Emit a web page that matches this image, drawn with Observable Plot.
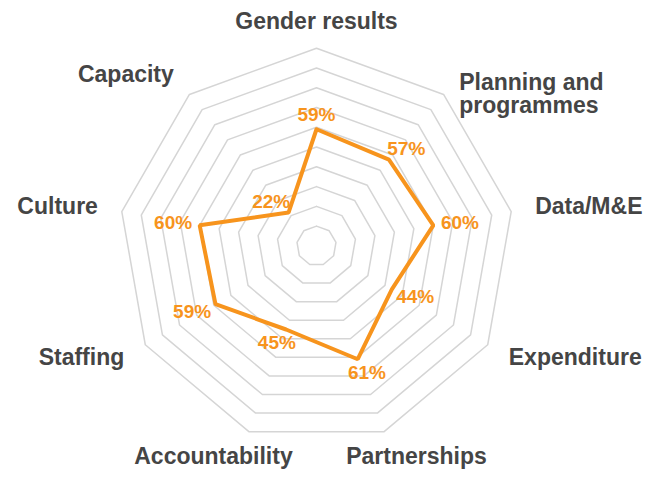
<!DOCTYPE html>
<html>
<head>
<meta charset="utf-8">
<script src="https://cdn.jsdelivr.net/npm/d3@7"></script>
<script src="https://cdn.jsdelivr.net/npm/@observablehq/plot@0.6"></script>
<style>
  html, body { margin: 0; padding: 0; background: #ffffff; }
</style>
</head>
<body>
<div id="chart"></div>
<script>
// ---- data ----
const categories = ["Gender results", "Planning and\nprogrammes", "Data/M&E", "Expenditure",
  "Partnerships", "Accountability", "Staffing", "Culture", "Capacity"];
const values = [59, 57, 60, 44, 61, 45, 59, 60, 22];
const valueLabels = values.map(v => v + "%");
const gridLevels = [10, 20, 30, 40, 50, 60, 70, 80, 90, 100];

// ---- layout ----
const W = 664, H = 477;
const cx = 316, cy = 245.4;     // centre in pixels
const k = 1.977;                // pixels per percentage point
const orange = "#f7941d";
const fontFamily = "'Liberation Sans', Arial, Helvetica, sans-serif";
const catFont = 23, valFont = 19;

const n = categories.length;
const ang = i => (2 * Math.PI * i) / n;

const ctx = document.createElement("canvas").getContext("2d");
function measure(str, size) {
  ctx.font = `bold ${size}px ${fontFamily}`;
  return Math.max(...str.split("\n").map(s => ctx.measureText(s).width));
}

// grid rings
const rings = gridLevels.flatMap(l =>
  d3.range(n + 1).map(i => ({level: l, x: l * Math.sin(ang(i % n)), y: l * Math.cos(ang(i % n))}))
);

// data polygon
const poly = d3.range(n + 1).map(i => {
  const j = i % n;
  return {x: values[j] * Math.sin(ang(j)), y: values[j] * Math.cos(ang(j))};
});

// category labels
const RX = 222, RY = 224;
const catData = categories.map((c, i) => {
  const s = Math.sin(ang(i)), co = Math.cos(ang(i));
  const anchor = s > 0.5 ? "start" : s < -0.5 ? "end" : "middle";
  const w = measure(c, catFont);
  const xp = anchor === "middle" ? (RX + w / 2) * s : RX * s;
  const yp = RY * co;
  const multi = c.includes("\n");
  return {text: c, anchor, line: multi ? "top" : "middle", x: xp / k, y: yp / k};
});

// value labels
const d = 8, hLab = 13;
const valData = values.map((v, i) => {
  const s = Math.sin(ang(i)), co = Math.cos(ang(i));
  const w = measure(valueLabels[i], valFont);
  const r = v * k;
  return {text: valueLabels[i], x: ((r + d + w / 2) * s) / k, y: ((r + d + hLab / 2) * co) / k};
});

const catMark = (a, l) => Plot.text(catData.filter(e => e.anchor === a && e.line === l), {
  x: "x", y: "y", text: "text", textAnchor: a, lineAnchor: l,
  fill: "#454545", fontWeight: "bold", fontSize: catFont, lineHeight: 0.98
});

const chart = Plot.plot({
  width: W,
  height: H,
  margin: 0,
  x: {type: "linear", domain: [-cx / k, (W - cx) / k], axis: null},
  y: {type: "linear", domain: [-(H - cy) / k, cy / k], axis: null},
  style: {fontFamily, background: "#ffffff"},
  marks: [
    Plot.line(rings, {x: "x", y: "y", z: "level", stroke: "#d5d5d5", strokeWidth: 1.5}),
    Plot.line(poly, {x: "x", y: "y", stroke: orange, strokeWidth: 4, strokeLinejoin: "miter"}),
    Plot.text(valData, {x: "x", y: "y", text: "text", fill: orange, fontWeight: "bold",
      fontSize: valFont, textAnchor: "middle", lineAnchor: "middle"}),
    catMark("start", "middle"),
    catMark("start", "top"),
    catMark("end", "middle"),
    catMark("middle", "middle")
  ]
});
document.getElementById("chart").appendChild(chart);
</script>
</body>
</html>
